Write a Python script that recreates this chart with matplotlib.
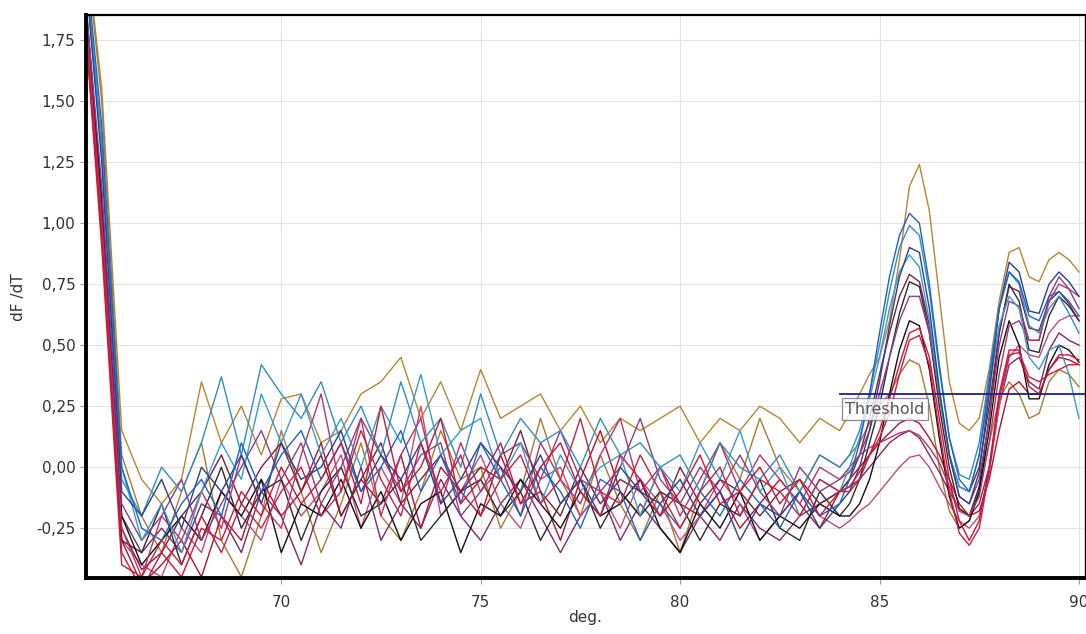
import numpy as np
import matplotlib
matplotlib.use('Agg')
import matplotlib.pyplot as plt

# temperature grid (deg.): 0.5 deg steps up to 84, then 0.25 deg steps over the melt peaks
temps = np.concatenate([np.arange(65.0, 84.01, 0.5), np.arange(84.25, 90.01, 0.25)])

# dF/dT curves (first 39 values: 65..84, last 24: 84.25..90)
gold_a = [2.3, 1.55, 0.15, -0.05, -0.15, -0.05, 0.35, 0.1, 0.25, 0.05, 0.28, 0.3, 0.1, 0.15, 0.3, 0.35, 0.45, 0.2, 0.35, 0.15,
          0.4, 0.2, 0.25, 0.3, 0.15, 0.25, 0.1, 0.2, 0.15, 0.2, 0.25, 0.1, 0.2, 0.15, 0.25, 0.2, 0.1, 0.2, 0.15,
          0.22, 0.3, 0.38, 0.45, 0.6, 0.85, 1.15, 1.24, 1.05, 0.7, 0.35, 0.18, 0.15, 0.2, 0.4, 0.68, 0.88, 0.9, 0.78, 0.76, 0.85, 0.88, 0.85, 0.8]
gold_b = [2.3, 1.5, 0.05, -0.2, -0.35, -0.1, 0.1, -0.3, -0.45, -0.2, 0.15, -0.1, -0.35, -0.15, 0.1, -0.2, -0.3, -0.1, 0.15, -0.05,
          0.0, -0.25, -0.1, 0.2, -0.05, -0.2, 0.05, -0.15, -0.3, -0.1, -0.35, -0.1, 0.1, -0.05, 0.2, 0.0, -0.1, 0.05, 0.0,
          0.05, 0.1, 0.18, 0.25, 0.3, 0.38, 0.44, 0.42, 0.25, 0.0, -0.18, -0.25, -0.22, -0.1, 0.1, 0.28, 0.35, 0.3, 0.2, 0.22, 0.35, 0.4, 0.38, 0.33]
teal_a = [2.2, 1.3, -0.05, -0.2, 0.0, -0.1, 0.1, 0.37, 0.05, 0.42, 0.3, 0.2, 0.35, 0.1, 0.25, 0.05, 0.35, 0.1, 0.2, 0.0,
          0.3, 0.05, 0.2, 0.1, 0.15, 0.0, 0.2, 0.05, 0.1, 0.0, 0.05, -0.1, 0.1, 0.0, -0.05, 0.05, -0.1, 0.05, 0.0,
          0.05, 0.15, 0.3, 0.5, 0.72, 0.9, 0.99, 0.95, 0.72, 0.4, 0.12, -0.03, -0.05, 0.1, 0.38, 0.65, 0.8, 0.75, 0.58, 0.55, 0.65, 0.7, 0.63, 0.55]
teal_b = [2.2, 1.35, 0.0, -0.3, -0.15, -0.35, -0.1, 0.1, -0.05, 0.3, 0.1, 0.3, 0.05, 0.2, 0.0, 0.25, 0.1, 0.38, 0.05, 0.15,
          0.2, -0.05, 0.1, -0.15, 0.05, -0.1, 0.0, 0.05, -0.2, 0.0, -0.1, 0.1, -0.05, 0.15, -0.1, 0.0, -0.2, -0.05, -0.1,
          0.0, 0.12, 0.28, 0.45, 0.65, 0.8, 0.87, 0.82, 0.6, 0.3, 0.05, -0.08, -0.1, 0.05, 0.32, 0.58, 0.7, 0.65, 0.45, 0.4, 0.48, 0.5, 0.38, 0.2]
blue_a = [2.25, 1.4, 0.0, -0.25, -0.3, -0.15, -0.05, -0.2, 0.1, -0.1, 0.05, 0.15, -0.05, 0.1, -0.1, 0.0, 0.15, -0.1, 0.05, -0.15,
          0.1, -0.05, -0.2, 0.0, -0.1, -0.25, -0.05, -0.1, -0.3, -0.15, -0.25, -0.1, -0.2, -0.05, -0.15, -0.25, -0.1, -0.2, -0.15,
          -0.05, 0.1, 0.3, 0.55, 0.78, 0.95, 1.04, 1.0, 0.75, 0.42, 0.12, -0.05, -0.1, 0.05, 0.35, 0.65, 0.8, 0.76, 0.62, 0.6, 0.7, 0.72, 0.68, 0.62]
navy_a = [2.2, 1.25, -0.1, -0.2, -0.05, -0.25, 0.0, -0.1, 0.05, -0.15, 0.1, -0.05, 0.0, 0.15, -0.1, 0.05, -0.05, 0.1, -0.15, -0.05,
          0.1, 0.0, -0.1, 0.05, -0.15, -0.05, -0.2, 0.0, -0.1, -0.15, -0.05, -0.2, -0.1, -0.3, -0.15, -0.2, -0.1, -0.25, -0.15,
          -0.1, 0.0, 0.15, 0.35, 0.58, 0.78, 0.9, 0.88, 0.65, 0.32, 0.05, -0.12, -0.15, -0.02, 0.3, 0.65, 0.84, 0.8, 0.64, 0.63, 0.75, 0.8, 0.76, 0.7]
black_a = [2.1, 1.1, -0.2, -0.4, -0.3, -0.2, -0.3, -0.1, -0.2, -0.05, -0.35, -0.15, -0.2, -0.05, -0.25, -0.1, -0.3, -0.15, -0.1, -0.35,
           -0.15, -0.2, -0.05, -0.15, -0.25, -0.1, -0.2, -0.15, -0.05, -0.25, -0.35, -0.15, -0.25, -0.1, -0.3, -0.2, -0.25, -0.15, -0.2,
           -0.2, -0.15, -0.05, 0.1, 0.3, 0.48, 0.6, 0.58, 0.4, 0.12, -0.12, -0.25, -0.22, -0.1, 0.15, 0.45, 0.6, 0.5, 0.28, 0.28, 0.42, 0.5, 0.48, 0.43]
black_b = [2.1, 1.05, -0.3, -0.35, -0.15, -0.4, -0.2, 0.0, -0.25, -0.1, -0.05, -0.3, -0.1, 0.0, -0.2, -0.15, -0.05, -0.3, -0.2, -0.1,
           -0.05, -0.2, -0.1, -0.3, -0.15, -0.05, -0.25, -0.1, -0.2, -0.1, -0.15, -0.3, -0.15, -0.2, -0.05, -0.25, -0.3, -0.1, -0.2,
           -0.15, -0.05, 0.1, 0.25, 0.45, 0.63, 0.76, 0.74, 0.55, 0.25, 0.0, -0.17, -0.2, -0.08, 0.2, 0.55, 0.75, 0.68, 0.48, 0.47, 0.62, 0.7, 0.66, 0.6]
crimson_a = [2.0, 0.95, -0.35, -0.5, -0.35, -0.45, -0.25, -0.3, -0.1, -0.2, 0.0, -0.15, -0.05, 0.1, -0.15, 0.25, -0.1, 0.0, 0.2, -0.15,
             -0.05, 0.1, -0.15, 0.0, 0.1, -0.1, -0.2, 0.05, -0.05, -0.2, -0.1, 0.05, -0.15, -0.1, 0.0, -0.15, -0.05, -0.2, -0.1,
             -0.1, -0.05, 0.05, 0.15, 0.28, 0.42, 0.55, 0.57, 0.45, 0.2, -0.05, -0.22, -0.3, -0.22, 0.0, 0.3, 0.48, 0.48, 0.33, 0.3, 0.4, 0.46, 0.46, 0.44]
crimson_b = [2.0, 0.9, -0.4, -0.45, -0.3, -0.4, -0.2, -0.35, -0.15, -0.25, -0.1, 0.0, -0.2, -0.1, 0.15, -0.05, -0.2, 0.1, -0.1, 0.05,
             -0.2, -0.05, 0.05, -0.15, -0.05, 0.2, -0.1, -0.15, 0.05, -0.1, -0.25, -0.1, 0.0, -0.2, -0.05, -0.1, -0.2, -0.05, -0.1,
             -0.08, -0.02, 0.05, 0.12, 0.22, 0.38, 0.52, 0.54, 0.42, 0.15, -0.1, -0.27, -0.32, -0.25, -0.02, 0.28, 0.46, 0.47, 0.37, 0.35, 0.38, 0.4, 0.42, 0.42]
red_a = [2.0, 1.0, -0.3, -0.48, -0.4, -0.3, -0.45, -0.2, -0.3, -0.05, -0.2, -0.1, 0.1, -0.2, -0.05, -0.15, 0.05, -0.25, 0.0, -0.1,
         -0.2, 0.05, -0.15, -0.1, -0.3, -0.05, 0.15, -0.1, -0.2, 0.0, -0.15, -0.2, -0.1, -0.25, -0.15, -0.05, -0.15, -0.25, -0.1,
         -0.05, 0.0, 0.05, 0.1, 0.14, 0.18, 0.2, 0.18, 0.12, 0.05, -0.05, -0.15, -0.2, -0.18, -0.05, 0.15, 0.32, 0.35, 0.3, 0.3, 0.4, 0.45, 0.44, 0.42]
magenta_a = [2.05, 1.0, -0.25, -0.45, -0.2, -0.3, -0.1, -0.25, 0.05, -0.15, -0.25, 0.05, 0.3, -0.1, 0.2, -0.2, 0.05, 0.2, -0.15, 0.1,
             -0.1, 0.0, -0.2, 0.1, -0.05, -0.15, 0.05, 0.2, -0.1, 0.0, -0.2, -0.05, 0.1, -0.1, 0.05, -0.05, -0.15, 0.0, -0.05,
             0.0, 0.05, 0.08, 0.1, 0.12, 0.14, 0.15, 0.13, 0.08, 0.02, -0.08, -0.18, -0.2, -0.12, 0.1, 0.38, 0.58, 0.6, 0.52, 0.52, 0.68, 0.75, 0.73, 0.7]
magenta_b = [2.0, 0.95, -0.3, -0.4, -0.45, -0.25, -0.35, -0.1, -0.2, -0.3, -0.05, -0.2, -0.1, 0.05, -0.25, 0.0, -0.15, 0.25, -0.2, -0.1,
             0.05, -0.15, -0.25, -0.05, 0.0, -0.2, -0.1, -0.25, -0.05, -0.15, -0.3, -0.2, -0.05, -0.15, -0.3, -0.2, -0.1, -0.2, -0.25,
             -0.22, -0.18, -0.15, -0.1, -0.05, 0.0, 0.04, 0.05, 0.0, -0.08, -0.15, -0.22, -0.25, -0.2, -0.02, 0.25, 0.45, 0.5, 0.46, 0.45, 0.55, 0.6, 0.62, 0.62]
purple_a = [2.1, 1.15, -0.15, -0.3, -0.2, -0.05, -0.3, -0.15, 0.0, 0.15, -0.05, 0.1, -0.15, 0.0, 0.2, 0.05, -0.1, 0.05, 0.1, -0.2,
            -0.1, 0.05, 0.1, -0.05, 0.15, -0.05, -0.1, 0.0, 0.2, -0.05, -0.15, 0.0, -0.1, 0.05, -0.1, -0.2, 0.0, -0.1, -0.05,
            -0.02, 0.05, 0.15, 0.3, 0.45, 0.6, 0.7, 0.7, 0.55, 0.3, 0.05, -0.12, -0.15, -0.05, 0.2, 0.5, 0.68, 0.66, 0.52, 0.52, 0.7, 0.78, 0.73, 0.65]
purple_b = [2.1, 1.1, -0.2, -0.35, -0.25, -0.35, -0.15, -0.2, -0.35, -0.1, -0.2, -0.4, -0.15, -0.25, 0.0, -0.3, -0.15, -0.25, -0.05, -0.2,
            -0.3, -0.15, -0.05, -0.2, -0.35, -0.2, -0.1, -0.3, -0.15, -0.25, -0.35, -0.2, -0.3, -0.15, -0.25, -0.3, -0.2, -0.15, -0.1,
            -0.08, -0.05, 0.0, 0.05, 0.1, 0.13, 0.15, 0.12, 0.05, -0.02, -0.1, -0.17, -0.2, -0.15, 0.0, 0.25, 0.42, 0.45, 0.35, 0.32, 0.48, 0.55, 0.52, 0.5]
maroon_a = [2.05, 1.05, -0.25, -0.42, -0.35, -0.2, -0.1, 0.05, -0.15, 0.0, 0.1, -0.1, 0.05, -0.2, -0.05, 0.1, -0.15, -0.05, 0.05, -0.1,
            0.0, -0.05, 0.15, -0.1, -0.2, 0.0, -0.15, -0.05, -0.1, -0.2, 0.0, -0.15, -0.05, -0.1, -0.2, -0.1, -0.05, -0.15, -0.1,
            -0.05, 0.05, 0.2, 0.38, 0.55, 0.7, 0.79, 0.76, 0.58, 0.3, 0.05, -0.08, -0.1, 0.0, 0.25, 0.55, 0.74, 0.72, 0.57, 0.56, 0.68, 0.72, 0.67, 0.6]

curves = [
    (gold_a, '#b8862e'), (gold_b, '#a97a30'),
    (purple_b, '#7a2a6a'), (magenta_b, '#c44a7a'), (red_a, '#b3122b'),
    (black_b, '#2b2b2b'), (black_a, '#111111'),
    (maroon_a, '#7d1f3a'), (purple_a, '#8e3d7e'), (magenta_a, '#b8336a'),
    (teal_b, '#3a9ad0'), (teal_a, '#2f8fc4'), (navy_a, '#2b3f8c'), (blue_a, '#1c63c8'),
    (crimson_b, '#c8203f'), (crimson_a, '#d01436'),
]

threshold = 0.30
y_ticks = [-0.25, 0.0, 0.25, 0.5, 0.75, 1.0, 1.25, 1.5, 1.75]
x_ticks = [70, 75, 80, 85, 90]

fig = plt.figure(figsize=(10.86, 6.34), dpi=100)
ax = fig.add_axes([0.079, 0.088, 0.92, 0.888])

for vals, col in curves:
    ax.plot(temps, vals, color=col, lw=1.0)

# threshold line with its label box hanging under it
ax.plot([84.0, 90.3], [threshold, threshold], color='#1f1f8c', lw=1.3, zorder=5)
ax.text(84.14, threshold - 0.062, 'Threshold', fontsize=11.5, color='#555555', va='center', ha='left', zorder=4,
        bbox=dict(boxstyle='square,pad=0.22', fc='white', ec='#6a6a8a', lw=0.9, alpha=0.8))

ax.set_xlim(65.1, 90.15)
ax.set_ylim(-0.455, 1.852)
ax.set_xticks(x_ticks)
ax.set_yticks(y_ticks)
ax.set_yticklabels([('%.2f' % v).replace('.', ',') for v in y_ticks])
ax.grid(True, color='#e3e3e3', lw=0.8)
ax.set_axisbelow(True)
ax.tick_params(labelsize=11, colors='#999999', labelcolor='#333333', length=4, width=0.8)
ax.tick_params(axis='x', pad=8)

for side in ['left', 'bottom']:
    ax.spines[side].set_linewidth(2.8)
    ax.spines[side].set_color('black')
ax.spines['top'].set_linewidth(1.6)
ax.spines['right'].set_linewidth(1.0)

ax.set_xlabel('deg.', fontsize=11, color='#333333', labelpad=0)
ax.set_ylabel('dF /dT', fontsize=11, color='#333333', labelpad=7)

fig.savefig('out.png', dpi=100)
